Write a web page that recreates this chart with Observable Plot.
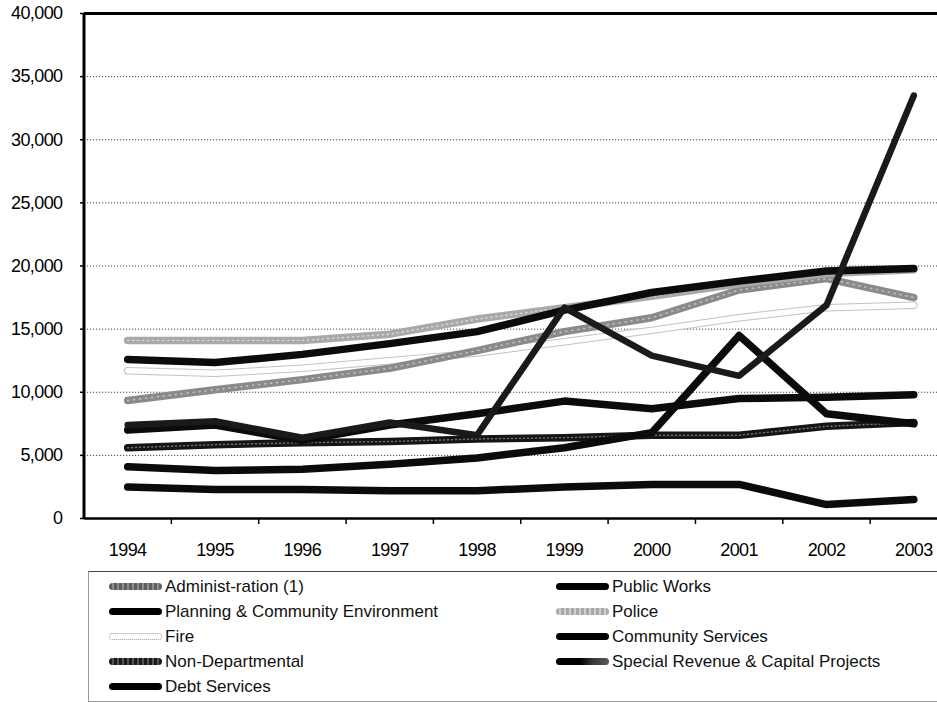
<!DOCTYPE html>
<html>
<head>
<meta charset="utf-8">
<script src="https://cdn.jsdelivr.net/npm/d3@7"></script>
<script src="https://cdn.jsdelivr.net/npm/@observablehq/plot@0.6"></script>
<style>
  html, body { margin: 0; padding: 0; background: #fff; overflow: hidden; }
  #chart svg { display: block; overflow: hidden; }
  #legend {
    position: relative;
    margin-left: 88px;
    margin-top: 11px;
    width: 900px;
    height: 129px;
    border-top: 1.5px solid #444;
    border-left: 1px solid #999;
    border-bottom: 1px solid #999;
    font-family: "Liberation Sans", Arial, sans-serif;
    font-size: 17px;
    color: #111;
  }
  .item { position: absolute; height: 25px; display: flex; align-items: center; }
  .swatch { width: 53px; height: 7px; border-radius: 4px; margin-right: 3px; box-sizing: border-box; }
</style>
</head>
<body>
<div id="chart"></div>
<div id="legend"></div>
<script>
// Spending by department, thousands of dollars, 1994–2003
const years = [1994, 1995, 1996, 1997, 1998, 1999, 2000, 2001, 2002, 2003];
const administration    = [9350, 10200, 11000, 11900, 13300, 14800, 15900, 18100, 19000, 17500];
const publicWorks       = [12600, 12350, 13000, 13850, 14800, 16500, 17900, 18800, 19600, 19800];
const planning          = [7000, 7400, 6200, 7400, 8300, 9300, 8700, 9500, 9600, 9800];
const police            = [14100, 14100, 14100, 14600, 15800, 16700, 17600, 18600, 19400, 19700];
const fire              = [11700, 11500, 11900, 12500, 13100, 14000, 14900, 15900, 16700, 16900];
const communityServices = [4100, 3800, 3900, 4300, 4800, 5600, 6800, 14500, 8300, 7500];
const nonDepartmental   = [5600, 5850, 6000, 6100, 6300, 6400, 6600, 6600, 7300, 7600];
const specialRevenue    = [7400, 7700, 6400, 7600, 6600, 16700, 12900, 11300, 16900, 33500];
const debtServices      = [2500, 2300, 2300, 2200, 2200, 2500, 2700, 2700, 1100, 1500];

const seriesNames = [
  "Administ-ration (1)", "Public Works", "Planning & Community Environment",
  "Police", "Fire", "Community Services", "Non-Departmental",
  "Special Revenue & Capital Projects", "Debt Services"
];
const yTicks = [0, 5000, 10000, 15000, 20000, 25000, 30000, 35000, 40000];

const rows = (values, name) => years.map((year, i) => ({year, value: values[i], series: name}));

// Year bands: boundaries halfway between years carry the small tick marks
const boundaries = [years[0] - 0.5, ...years.map(y => y + 0.5)];

const thick = {x: "year", y: "value", strokeWidth: 7.5, strokeLinecap: "round", strokeLinejoin: "round"};

const black = "#0b0b0b";

const chart = Plot.plot({
  width: 937,
  height: 560,
  marginTop: 13,
  marginBottom: 42,
  marginLeft: 84,
  marginRight: 0,
  style: {fontFamily: "'Liberation Sans', Arial, sans-serif", fontSize: "18px", letterSpacing: "-0.6px", color: "#000", background: "#fff"},
  x: {type: "linear", domain: [boundaries[0], boundaries[boundaries.length - 1]], range: [83.5, 957], label: null},
  y: {domain: [0, 40000], label: null},
  marks: [
    Plot.gridY(yTicks.slice(1, -1), {stroke: "#333", strokeOpacity: 0.9, strokeWidth: 1, strokeDasharray: "1.2 1.8"}),
    Plot.axisY(yTicks, {tickSize: 4, tickPadding: 18, tickFormat: d3.format(","), strokeWidth: 1.5, label: null}),
    Plot.axisX(boundaries.slice(1), {tickSize: 6, tickFormat: () => "", strokeWidth: 1.5, label: null}),
    Plot.axisX(years, {tickSize: 0, tickPadding: 25, tickFormat: d => String(d), label: null}),

    // Fire: hollow line with faint outline
    Plot.line(rows(fire, seriesNames[4]), {...thick, stroke: "#c2c2c2"}),
    Plot.line(rows(fire, seriesNames[4]), {...thick, strokeWidth: 5.5, stroke: "#fff"}),

    // Administration and Police: textured grays
    Plot.line(rows(administration, seriesNames[0]), {...thick, stroke: "#8a8a8a"}),
    Plot.line(rows(administration, seriesNames[0]), {...thick, strokeWidth: 1.6, stroke: "#cfcfcf", strokeDasharray: "1 5", strokeOpacity: 0.8}),
    Plot.line(rows(police, seriesNames[3]), {...thick, stroke: "#a9a9a9"}),
    Plot.line(rows(police, seriesNames[3]), {...thick, strokeWidth: 1.6, stroke: "#e2e2e2", strokeDasharray: "1 4", strokeOpacity: 0.8}),

    // Black series
    Plot.line(rows(debtServices, seriesNames[8]), {...thick, stroke: black}),
    Plot.line(rows(nonDepartmental, seriesNames[6]), {...thick, stroke: "#151515"}),
    Plot.line(rows(nonDepartmental, seriesNames[6]), {...thick, strokeWidth: 1.5, stroke: "#8a8a8a", strokeDasharray: "1 3", strokeOpacity: 0.8}),
    Plot.line(rows(communityServices, seriesNames[5]), {...thick, stroke: black}),
    Plot.line(rows(planning, seriesNames[2]), {...thick, stroke: black}),
    Plot.line(rows(publicWorks, seriesNames[1]), {...thick, stroke: black}),
    Plot.line(rows(specialRevenue, seriesNames[7]), {...thick, strokeWidth: 6.5, stroke: "#1a1a1a"}),

    // Plot frame: heavy top, left and bottom edges
    Plot.ruleY([yTicks[yTicks.length - 1]], {stroke: "#000", strokeWidth: 3}),
    Plot.ruleY([0], {stroke: "#000", strokeWidth: 2.5}),
    Plot.ruleX([boundaries[0]], {stroke: "#000", strokeWidth: 3})
  ]
});
document.getElementById("chart").append(chart);

// Legend: two columns, filled row by row
const swatchStyles = [
  "background: repeating-linear-gradient(90deg, #5e5e5e 0 3px, #8e8e8e 3px 5px);",
  "background: #000;",
  "background: #000;",
  "background: repeating-linear-gradient(90deg, #a8a8a8 0 3px, #d0d0d0 3px 5px);",
  "background: #fff; border: 1px dotted #999;",
  "background: #000;",
  "background: repeating-linear-gradient(90deg, #1a1a1a 0 3px, #555 3px 5px);",
  "background: linear-gradient(90deg, #000 45%, #3a3a3a 70%, #5a5a5a 100%);",
  "background: #000;"
];
const legend = document.getElementById("legend");
seriesNames.forEach((name, i) => {
  const col = i % 2, row = Math.floor(i / 2);
  const item = document.createElement("div");
  item.className = "item";
  item.style.left = (col === 0 ? 20 : 467) + "px";
  item.style.top = (2 + row * 25) + "px";
  const sw = document.createElement("div");
  sw.className = "swatch";
  sw.setAttribute("style", swatchStyles[i]);
  const label = document.createElement("span");
  label.textContent = name;
  item.append(sw, label);
  legend.append(item);
});
</script>
</body>
</html>
